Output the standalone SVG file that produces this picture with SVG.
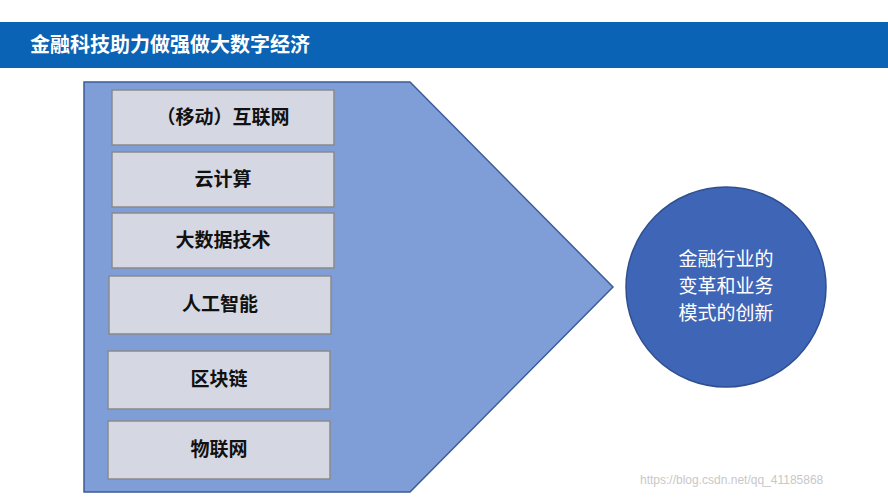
<svg xmlns="http://www.w3.org/2000/svg" width="888" height="499" viewBox="0 0 888 499">
<style>
.b{fill:#D5D8E3;stroke:#8a8a8a;stroke-width:1.5}
.t{font-family:"Noto Sans CJK SC",sans-serif;font-weight:bold;font-size:19px;fill:#111;text-anchor:middle}
.w{font-family:"Noto Sans CJK SC",sans-serif;font-size:19px;fill:#fff;text-anchor:middle}
</style>
<rect width="888" height="499" fill="#fff"/>
<g id="title"><rect x="0" y="22" width="888" height="46" fill="#0A63B5"/>
<text x="30" y="52" style="font-family:'Noto Sans CJK SC',sans-serif;font-weight:bold;font-size:20px;fill:#fff">金融科技助力做强做大数字经济</text></g>
<g id="arrow"><polygon points="84,82 410,82 613,287 410,492 84,492" fill="#7F9ED8" stroke="#3C5B99" stroke-width="1.5"/></g>
<g id="n1"><rect class="b" x="112" y="90" width="222" height="55"/><text class="t" x="223" y="124">（移动）互联网</text></g>
<g id="n2"><rect class="b" x="112" y="152" width="222" height="55"/><text class="t" x="223" y="186">云计算</text></g>
<g id="n3"><rect class="b" x="112" y="213" width="222" height="55"/><text class="t" x="223" y="247">大数据技术</text></g>
<g id="n4"><rect class="b" x="109" y="276" width="222" height="58"/><text class="t" x="220" y="311">人工智能</text></g>
<g id="n5"><rect class="b" x="108" y="351" width="222" height="58"/><text class="t" x="219" y="386">区块链</text></g>
<g id="n6"><rect class="b" x="108" y="421" width="222" height="58"/><text class="t" x="219" y="456">物联网</text></g>
<g id="circle"><circle cx="726" cy="287" r="100" fill="#3F65B7" stroke="#2F4F8F" stroke-width="1.5"/>
<text class="w" x="726" y="266">金融行业的</text><text class="w" x="726" y="293">变革和业务</text><text class="w" x="726" y="320">模式的创新</text></g>
<g id="connectors"/>
<text x="640" y="484" style="font-family:'Liberation Sans',sans-serif;font-size:12px;fill:#c8c8c8">https://blog.csdn.net/qq_41185868</text>
</svg>
